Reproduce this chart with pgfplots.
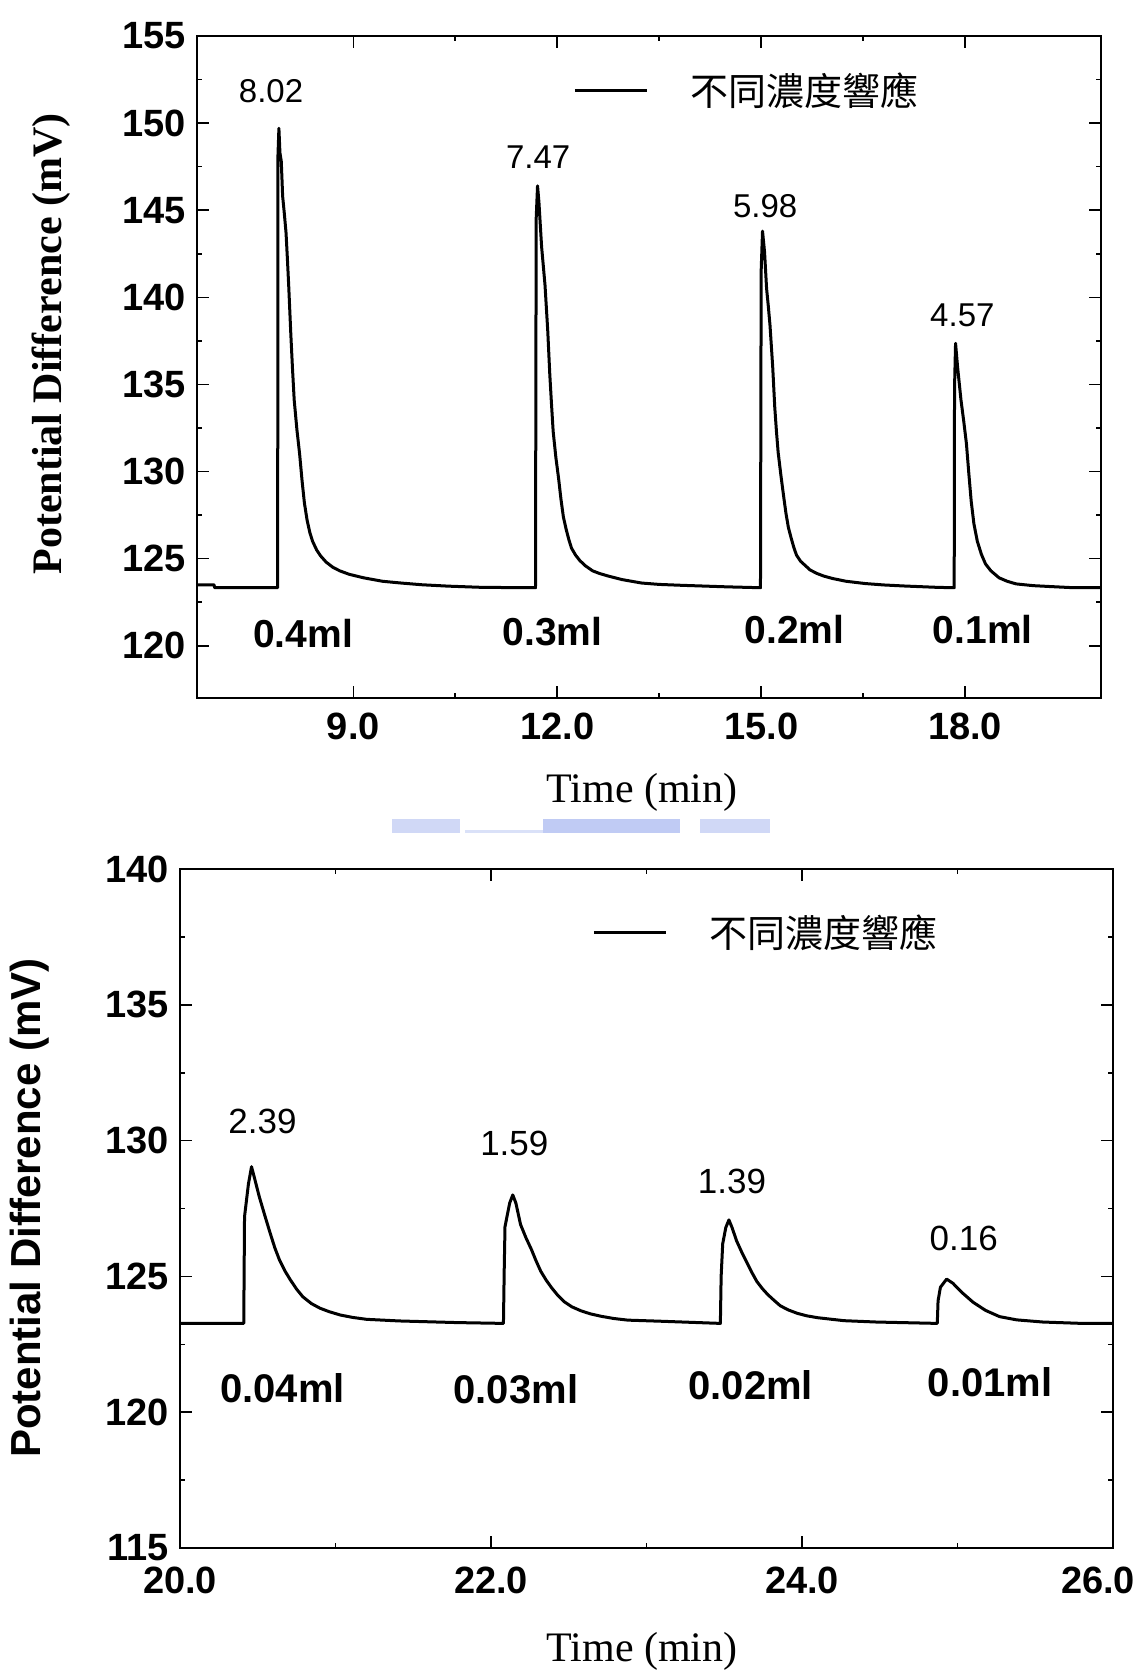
\documentclass[border=0pt]{standalone}
\usepackage{fontspec}
\setmainfont{Liberation Sans}
\newfontfamily\tnr{Liberation Serif}
\newfontfamily\cjk{Noto Sans CJK TC}
\usepackage{pgfplots}
\pgfplotsset{compat=1.18}
\definecolor{wm}{RGB}{150,168,236}
\newcommand{\fs}[1]{\fontsize{#1}{#1}\selectfont}

\pgfplotsset{
  trace/.style={
    scale only axis, clip=false,
    axis line style={line width=1pt},
    every tick/.style={black, line width=0.8pt},
    tick align=inside, xtick pos=both, ytick pos=both,
    major tick length=6pt, minor tick length=2.5pt,
    minor x tick num=1, minor y tick num=1,
    tick label style={font=\bfseries\fs{19}},
    /pgf/number format/assume math mode=true,
    yticklabel style={xshift=-2pt},
    legend style={draw=none, fill=none, inner sep=0pt, font=\cjk\fs{19},
      nodes={inner sep=0pt},
      /tikz/every odd column/.append style={column sep=21pt}},
    legend image code/.code={\draw[#1] (0pt,0pt) -- (36pt,0pt);},
  },
}

\begin{document}
\begin{tikzpicture}
\useasboundingbox (0pt,0pt) rectangle (569pt,-837pt);

% upper panel: 0.1 - 0.4 ml
\begin{axis}[trace, at={(98.5pt,-18pt)}, anchor=north west,
  width=452pt, height=331pt,
  xmin=6.7, xmax=20, ymin=117, ymax=155,
  xtick={9,12,15,18}, xticklabels={9.0,12.0,15.0,18.0},
  ytick={120,125,...,155},
  xticklabel style={yshift=-4pt},
  legend style={at={(0.416,0.918)}, anchor=west},
]
\addplot[black, line width=1.5pt, line join=round] coordinates {
 (6.7,123.5) (6.95,123.5) (6.96,123.33) (7.887,123.33) (7.89,148.0)
 (7.905,149.7) (7.92,148.3) (7.94,147.8) (7.96,145.8) (7.985,144.8)
 (8.01,143.7) (8.03,142.2) (8.05,140.6) (8.08,137.9) (8.105,135.9)
 (8.13,134.1) (8.17,132.4) (8.21,131.0) (8.245,129.5) (8.28,128.2)
 (8.32,127.2) (8.36,126.5) (8.40,126.0) (8.46,125.5) (8.52,125.15)
 (8.60,124.8) (8.70,124.5) (8.80,124.3) (8.94,124.1) (9.15,123.9)
 (9.43,123.7) (9.7,123.6) (10.01,123.5) (10.4,123.42) (10.90,123.35)
 (11.68,123.33)
 (11.69,144.5) (11.71,146.4) (11.73,145.5) (11.77,142.9) (11.795,141.8)
 (11.82,140.7) (11.84,139.4) (11.86,138.1) (11.89,135.6) (11.915,133.9)
 (11.94,132.3) (11.98,130.8) (12.02,129.6) (12.055,128.4) (12.09,127.4)
 (12.13,126.7) (12.17,126.1) (12.21,125.6) (12.27,125.2) (12.33,124.9)
 (12.41,124.6) (12.52,124.3) (12.62,124.15) (12.75,124.0) (12.95,123.8)
 (13.24,123.6) (13.5,123.52) (13.82,123.47) (14.5,123.38) (14.99,123.33)
 (15.00,141.5) (15.02,143.8) (15.05,142.6) (15.08,140.5) (15.105,139.5)
 (15.13,138.4) (15.15,137.2) (15.17,136.0) (15.20,133.7) (15.225,132.3)
 (15.25,131.1) (15.29,129.8) (15.33,128.6) (15.365,127.6) (15.40,126.8)
 (15.44,126.2) (15.48,125.65) (15.52,125.2) (15.58,124.85) (15.65,124.6)
 (15.72,124.35) (15.82,124.15) (15.92,124.0) (16.05,123.86) (16.25,123.7)
 (16.53,123.57) (16.8,123.49) (17.1,123.43) (17.6,123.35) (17.84,123.33)
 (17.845,134.8) (17.86,137.36) (17.89,136.0) (17.94,134.1) (17.98,132.9)
 (18.02,131.6) (18.055,129.9) (18.09,128.3) (18.13,127.0) (18.18,126.0)
 (18.24,125.25) (18.30,124.7) (18.38,124.3) (18.50,123.9) (18.62,123.7)
 (18.75,123.55) (19.0,123.45) (19.24,123.4) (19.6,123.33) (20,123.33)
};
\addlegendentry{不同濃度響應}
\node[font=\fs{16.5}] at (axis cs:7.79,151.84) {8.02};
\node[font=\fs{16.5}] at (axis cs:11.72,148.05) {7.47};
\node[font=\fs{16.5}] at (axis cs:15.06,145.23) {5.98};
\node[font=\fs{16.5}] at (axis cs:17.96,138.97) {4.57};
\node[font=\bfseries\fs{19.5}] at (axis cs:8.26,120.69) {0.4ml};
\node[font=\bfseries\fs{19.5}] at (axis cs:11.93,120.8) {0.3ml};
\node[font=\bfseries\fs{19.5}] at (axis cs:15.49,120.92) {0.2ml};
\node[font=\bfseries\fs{19.5}] at (axis cs:18.26,120.92) {0.1ml};
\end{axis}

% lower panel: 0.01 - 0.04 ml
\begin{axis}[trace, at={(90pt,-434.5pt)}, anchor=north west,
  width=466.5pt, height=339.5pt,
  xmin=20, xmax=26, ymin=115, ymax=140,
  xtick={20,22,24,26},
  xticklabels={20.0,22.0,24.0,\hspace*{-15pt}26.0},
  ytick={115,120,...,140},
  xticklabel style={yshift=-6pt},
  legend style={at={(0.4416,0.906)}, anchor=west},
]
\addplot[black, line width=1.5pt, line join=round] coordinates {
 (20,123.27) (20.41,123.27) (20.415,127.2) (20.44,128.4) (20.46,129.04)
 (20.48,128.6) (20.51,127.93) (20.545,127.25) (20.58,126.59) (20.61,126.05)
 (20.64,125.6) (20.675,125.2) (20.71,124.87) (20.75,124.53) (20.79,124.25)
 (20.845,124.0) (20.90,123.83) (20.96,123.7) (21.03,123.58) (21.11,123.49)
 (21.20,123.42) (21.41,123.36) (21.78,123.30) (22.08,123.27)
 (22.085,125.24) (22.09,126.83) (22.12,127.7) (22.14,128.0) (22.16,127.7)
 (22.19,126.91) (22.225,126.42) (22.26,125.99) (22.29,125.57) (22.32,125.19)
 (22.355,124.86) (22.39,124.58) (22.43,124.3) (22.47,124.07) (22.52,123.88)
 (22.58,123.73) (22.64,123.62) (22.71,123.53) (22.79,123.45) (22.88,123.39)
 (23.09,123.35) (23.475,123.27)
 (23.48,125.0) (23.49,126.2) (23.51,126.8) (23.53,127.08) (23.55,126.8)
 (23.58,126.3) (23.615,125.86) (23.65,125.46) (23.68,125.12) (23.71,124.81)
 (23.745,124.55) (23.78,124.33) (23.82,124.12) (23.86,123.92) (23.91,123.77)
 (23.97,123.64) (24.03,123.55) (24.10,123.48) (24.27,123.37) (24.48,123.32)
 (24.87,123.27)
 (24.875,124.1) (24.89,124.6) (24.93,124.9) (24.97,124.75) (25.03,124.4)
 (25.10,124.05) (25.18,123.75) (25.27,123.52) (25.38,123.4) (25.55,123.32)
 (25.8,123.27) (26,123.27)
};
\addlegendentry{不同濃度響應}
\node[font=\fs{17.5}] at (axis cs:20.53,130.72) {2.39};
\node[font=\fs{17.5}] at (axis cs:22.15,129.91) {1.59};
\node[font=\fs{17.5}] at (axis cs:23.55,128.48) {1.39};
\node[font=\fs{17.5}] at (axis cs:25.04,126.38) {0.16};
\node[font=\bfseries\fs{20}] at (axis cs:20.66,120.89) {0.04ml};
\node[font=\bfseries\fs{20}] at (axis cs:22.16,120.85) {0.03ml};
\node[font=\bfseries\fs{20}] at (axis cs:23.67,121.0) {0.02ml};
\node[font=\bfseries\fs{20}] at (axis cs:25.21,121.11) {0.01ml};
\end{axis}

% axis titles
\node[rotate=90, font=\tnr\bfseries\fs{21}] at (25.5pt,-172pt) {Potential Difference (mV)};
\node[font=\tnr\fs{21}] at (321pt,-396pt) {Time (min)};
\node[rotate=90, font=\bfseries\fs{21}] at (15pt,-604pt) {Potential Difference (mV)};
\node[font=\tnr\fs{21}] at (321pt,-825.5pt) {Time (min)};

% faint watermark strip between the panels
\fill[wm!45] (196pt,-409.5pt) rectangle (230pt,-416.5pt);
\fill[wm!35] (232.5pt,-415pt) rectangle (271.5pt,-416.5pt);
\fill[wm!60] (271.5pt,-409.5pt) rectangle (340pt,-416.5pt);
\fill[wm!45] (350pt,-409.5pt) rectangle (385pt,-416.5pt);
\end{tikzpicture}
\end{document}
